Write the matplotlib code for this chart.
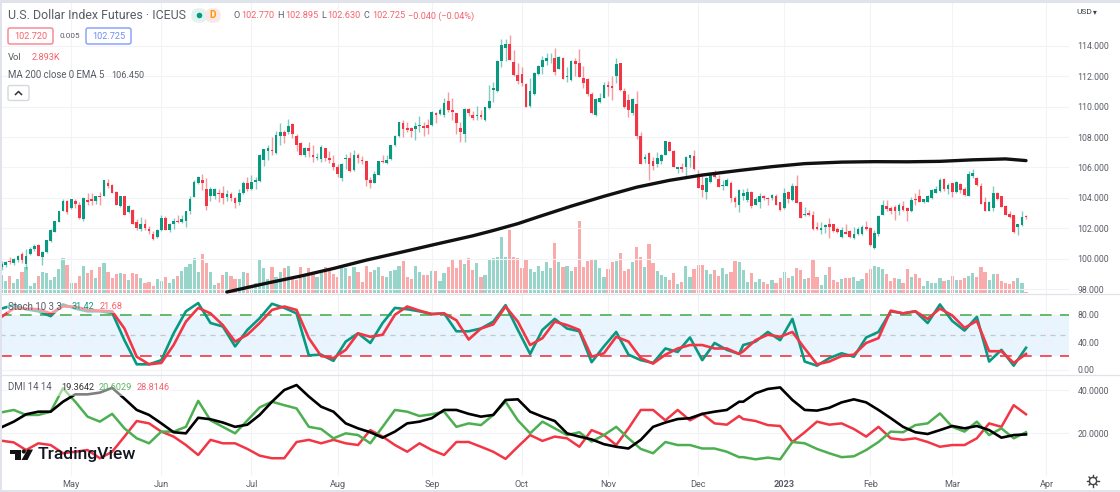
import numpy as np
import matplotlib
matplotlib.use("Agg")
import matplotlib.pyplot as plt
from matplotlib.patches import Rectangle, FancyBboxPatch, Circle, Polygon

plt.rcParams['font.family'] = ['Roboto', 'DejaVu Sans']

# daily bars
opens = [99.45,99.6,99.85,99.7,99.9,100.3,99.65,100.3,100.6,100.9,
    100.1,100.45,101.15,101.75,102.4,103.15,103.8,103.3,103.8,103.55,
    102.6,103.85,103.9,103.8,104.15,104.15,105.0,104.85,104.4,103.45,
    104.1,103.05,103.2,102.4,101.95,102.3,101.95,101.65,101.45,101.85,
    102.7,101.85,102.25,102.5,102.4,102.45,103.1,104.05,105.0,105.2,
    104.55,104.1,104.15,104.35,104.3,104.05,104.25,104.0,103.7,104.3,
    104.95,104.55,105.05,105.1,106.5,107.1,107.15,106.95,108.1,108.35,
    108.3,108.85,108.1,107.6,106.85,107.25,106.85,106.65,106.55,107.25,
    106.6,106.3,106.0,105.3,106.55,106.6,105.85,106.8,106.5,106.4,
    105.15,105.0,105.5,106.4,106.3,106.55,107.45,108.05,108.95,108.6,
    108.6,108.55,108.75,108.75,108.8,108.8,109.6,109.5,109.45,110.35,
    109.8,109.55,108.6,108.2,109.85,109.45,109.4,109.45,109.15,109.9,
    111.1,111.0,113.0,113.85,114.1,112.95,112.1,112.15,111.5,110.05,
    110.8,112.15,112.6,113.0,113.05,113.2,112.45,113.2,111.95,111.75,
    113.0,112.85,111.9,111.8,110.85,109.45,110.3,110.6,111.45,111.35,
    112.0,112.85,111.05,110.45,109.6,110.2,108.1,106.55,106.95,106.45,
    106.25,106.4,106.85,107.65,107.05,105.9,106.0,106.05,106.6,106.75,
    105.6,104.85,104.4,105.05,105.7,105.25,104.8,104.8,105.0,104.0,
    103.5,104.1,103.85,104.4,103.55,103.75,104.15,104.0,104.0,104.15,
    103.7,103.35,104.4,103.85,104.8,103.7,102.85,103.0,102.85,102.05,
    101.9,102.05,102.25,102.25,101.95,101.4,101.75,101.8,101.35,101.6,
    101.6,102.05,102.0,100.7,101.6,102.9,103.45,103.3,103.4,103.15,
    103.45,103.35,103.1,103.9,104.1,103.7,103.75,104.0,104.35,104.45,
    105.25,104.55,104.95,104.4,104.9,104.6,104.15,105.45,105.3,104.75,
    103.75,103.15,103.3,104.35,104.1,103.45,102.95,102.85,102.1,102.2,
    102.77]
highs = [99.85,99.85,100.1,100.05,100.25,100.45,100.6,100.75,100.95,100.95,
    100.5,101.25,101.95,102.45,103.1,103.9,103.85,103.95,103.9,103.75,
    104.05,104.3,104.35,104.1,104.4,105.2,105.25,104.9,104.45,104.15,
    104.15,103.5,103.25,102.6,102.75,102.6,102.15,101.8,101.95,102.85,
    102.8,102.35,102.7,102.9,102.85,103.15,104.1,105.2,105.45,105.55,
    105.3,104.7,104.65,104.55,104.75,104.5,104.4,104.05,104.55,105.1,
    105.35,105.5,105.4,106.9,107.2,107.45,108.0,108.4,108.95,108.45,
    109.2,108.95,108.2,107.7,107.35,107.65,107.45,106.95,107.45,107.3,
    107.05,106.85,106.25,106.3,106.9,107.0,107.15,106.95,106.75,106.45,
    105.4,105.75,106.45,106.8,106.85,107.5,108.15,109.0,109.15,109.0,
    108.65,109.0,109.4,109.0,109.2,109.7,109.65,109.9,110.55,110.95,
    110.55,109.6,109.0,109.9,109.9,109.7,110.05,109.75,110.0,111.4,
    111.6,113.1,114.45,114.45,114.7,113.75,112.9,112.6,111.55,111.9,
    112.3,112.75,113.35,113.55,113.5,113.85,113.3,113.25,112.6,113.1,
    113.2,113.8,112.7,111.9,110.95,110.55,110.9,111.6,111.7,112.0,
    113.2,112.85,111.2,110.85,110.55,111.0,108.3,106.9,107.0,106.7,
    107.0,106.9,107.75,107.75,107.15,106.05,106.3,106.75,106.85,107.15,
    105.8,105.5,105.35,105.6,105.85,105.5,105.2,105.3,105.1,104.1,
    104.6,104.55,104.65,104.45,104.05,104.3,104.2,104.05,104.25,104.25,
    103.75,104.65,104.45,105.0,105.5,103.75,103.4,103.2,103.1,102.4,
    102.4,102.3,102.65,102.3,102.05,102.05,102.25,101.9,102.1,102.05,
    102.2,102.5,102.05,101.9,102.85,103.85,103.85,103.45,103.5,103.65,
    103.8,103.4,104.05,104.3,104.6,103.95,104.2,104.55,104.75,105.3,
    105.3,105.0,105.0,105.1,105.0,104.7,105.75,105.9,105.35,104.95,
    104.05,103.8,104.75,104.4,104.15,103.5,103.1,102.9,102.3,103.1,
    102.895]
lows = [99.25,99.45,99.65,99.55,99.8,99.7,99.3,100.25,100.5,100.15,
    99.6,100.35,101.1,101.75,102.4,103.1,102.95,103.25,103.3,102.6,
    102.5,103.5,103.5,103.6,103.55,104.1,104.65,104.3,103.5,103.4,
    102.85,103.0,102.25,101.9,101.8,101.9,101.6,101.25,101.35,101.8,
    101.85,101.75,101.95,102.35,102.35,102.05,102.95,104.05,104.9,104.5,
    103.2,103.8,103.9,103.75,103.6,103.8,103.8,103.35,103.5,104.25,
    104.45,104.5,104.6,105.05,106.1,106.5,106.85,106.9,107.5,107.6,
    108.2,107.95,107.1,106.8,106.7,106.7,106.35,106.5,106.35,106.45,
    106.3,105.8,105.35,105.1,105.9,105.7,105.75,106.3,106.2,104.8,
    104.65,104.95,105.5,106.3,106.2,106.5,107.4,108.0,108.0,108.3,
    108.0,107.8,108.35,108.1,108.2,108.7,108.9,109.45,109.3,109.65,
    109.15,108.2,107.65,107.7,109.4,109.1,109.15,109.2,109.05,109.85,
    110.3,110.95,112.6,113.0,113.05,112.0,111.5,111.35,110.0,110.0,
    110.75,112.1,112.15,112.75,112.9,112.1,112.45,111.8,111.65,111.7,
    112.0,111.95,111.2,110.7,109.5,109.4,110.25,110.6,110.7,110.45,
    111.55,111.05,109.9,109.3,109.45,107.9,106.2,106.3,105.15,105.85,
    106.0,106.25,106.85,107.05,106.0,105.65,105.7,105.4,106.0,105.85,
    104.65,104.05,103.9,105.0,105.3,104.7,104.5,104.75,103.75,103.4,
    103.05,103.85,103.75,103.35,103.5,103.35,103.85,103.5,103.85,103.55,
    103.15,103.25,103.65,103.8,103.65,102.7,102.8,102.8,101.9,101.85,
    101.6,101.7,101.35,101.75,101.7,101.35,101.6,101.35,101.3,101.55,
    101.55,101.9,100.85,100.65,101.5,102.85,103.1,102.95,102.55,102.85,
    103.15,102.45,103.05,103.5,103.7,103.65,103.7,103.95,104.3,104.4,
    104.45,104.25,104.05,104.35,104.35,104.15,104.1,105.3,104.75,103.6,
    103.15,103.1,103.1,103.85,103.4,102.85,102.7,101.7,101.55,102.15,
    102.63]
closes = [99.65,99.75,99.8,99.95,100.2,99.9,100.2,100.65,100.85,100.2,
    100.45,101.2,101.85,102.45,103.1,103.8,103.05,103.9,103.6,102.7,
    104.0,103.75,103.8,104.1,104.05,105.15,104.75,104.35,103.5,104.1,
    102.9,103.45,102.3,102.0,102.25,102.0,101.8,101.3,101.85,102.7,
    101.9,102.25,102.5,102.4,102.6,103.15,103.95,105.05,105.4,105.0,
    103.45,104.55,104.6,104.25,104.0,104.25,104.0,103.65,104.3,104.95,
    104.55,105.05,105.15,106.8,107.2,107.3,107.05,108.15,108.35,108.1,
    108.7,108.2,107.5,106.85,107.25,107.05,106.7,106.7,107.35,106.65,
    106.5,106.0,105.55,106.25,106.65,105.75,106.8,106.6,106.45,105.2,
    105.0,105.55,106.45,106.35,106.5,107.45,108.1,109.0,108.55,108.45,
    108.4,108.7,108.8,108.6,108.6,109.65,109.45,109.8,110.25,109.75,
    109.65,108.95,108.3,109.85,109.6,109.25,109.45,109.3,109.95,110.35,
    111.2,113.0,114.05,114.1,113.1,112.05,111.7,111.55,110.0,111.0,
    112.2,112.7,113.05,113.2,113.1,112.25,113.25,111.85,112.0,113.0,
    112.8,111.95,111.55,110.8,109.55,110.5,110.55,111.45,111.3,111.2,
    112.8,111.1,109.95,109.8,110.5,108.1,106.2,106.7,106.25,106.1,
    106.6,106.85,107.75,107.1,106.0,106.0,105.9,106.7,106.8,105.9,
    104.65,104.5,105.3,105.5,105.4,104.7,104.85,105.15,104.0,103.75,
    104.5,104.35,104.4,103.45,103.9,104.1,104.0,103.9,104.2,103.55,
    103.2,104.3,103.95,104.8,103.65,102.7,102.95,102.85,101.95,101.95,
    102.0,102.2,102.1,101.8,101.75,101.9,101.6,101.45,101.6,101.95,
    102.1,101.95,100.9,101.7,102.8,103.55,103.25,103.15,103.15,103.5,
    103.2,103.1,103.85,103.85,103.7,103.9,104.1,104.5,104.6,105.2,
    104.55,104.85,104.4,105.05,104.5,104.2,105.6,105.65,104.85,103.6,
    103.15,103.75,104.3,103.95,103.4,102.9,102.75,101.75,102.25,102.75,
    102.725]
volume_k = [27.5,18.5,26,15,21.5,32.5,40,11.5,15,26,
    32.5,30,20,24,36.5,52.5,42.5,15,15,26,
    41.5,30,35,23,39,45,32.5,22.5,28.5,30,
    28.5,20,30,29,22.5,15,17.5,11.5,21,19,
    24,16,21.5,26,33.5,40,44,53,32.5,59,
    45,32.5,12.5,16,27.5,32.5,26,21.5,21.5,31.5,
    30,11,15,50,37.5,21,40,25,31.5,37.5,
    41.5,25,20,39.5,29,37.5,32.5,24,30,40,
    37.5,28.5,25,40,37.5,26,40,31.5,16.5,41.5,
    32.5,35,39,26,24,33.5,34.5,41.5,48.5,24,
    21,41.5,31.5,27.5,27,33.5,33.5,19,30,39.5,
    51,38.5,50,44,53,35,46,24,28,50,
    53.5,54,85,54,95,55,52.5,38.5,50.5,37,
    32.5,41.5,33.5,47.5,38.5,76,47,40,41,34,
    39,108.5,40,48.5,49.5,49.5,37.5,25,36,46.5,
    49,61,34,36,46.5,69.5,54,39.5,74,45,
    33.5,27,24,20,31,14,17,41.5,24.5,37,
    42.5,42.5,35,29,35,26,38.5,29,32.5,48,
    47.5,35,17.5,30,17.5,21,16.5,14,19.5,15,22.5,
    32.5,23,26,38,35,21.5,23,51.5,24,12.5,
    27,39,20,16.5,22,23,23.5,24,19,21.5,
    30,36,41.5,39,36,28.5,19,23,21.5,16,
    37,25,29,23.5,11,18.5,16,16,23.5,18,
    19.5,26,19.5,19.5,23,26,30.5,24,39.5,32.5,
    20,28.5,28.5,18.5,16,14,19,23,15,2.893]

ma_idx = [55,65,73,81,89,98,106,115,120,126,131,139,147,155,163,171,180,188,196,205,213,221,229,237,245,250]
ma200 = [97.8,98.4,98.85,99.35,99.9,100.45,100.95,101.5,101.85,102.3,102.75,103.45,104.1,104.7,105.15,105.5,105.8,106.05,106.25,106.35,106.38,106.37,106.4,106.5,106.56,106.45]

# oscillators are read every third bar
osc_idx = list(range(0, 181, 3)) + list(range(181, 251, 3))
stoch_k = [89,94,88,85,78,95,89,85,85,83,43,8,8,14,53,85,97,68,63,34,58,75,96,90,82,21,22,13,41,53,
    39,68,90,88,85,81,82,56,56,60,70,94,58,23,58,74,60,56,11,34,55,22,14,10,31,26,47,14,39,29,23,
    36,41,55,43,74,12,6,17,24,19,47,55,85,82,85,68,95,71,57,77,12,29,6,32]
stoch_d = [77,89,89,88,82,92,92,87,86,85,60,19,8,10,36,70,90,82,65,41,51,68,87,92,87,46,20,17,29,53,
    48,51,80,92,86,81,82,72,44,60,66,92,70,36,46,70,65,58,19,24,48,41,17,9,22,31,36,36,31,31,23,
    27,43,51,48,55,31,8,12,20,22,39,46,86,82,85,74,89,79,61,71,27,27,10,23]
adx = [22.8,25.4,28.8,30,30,34.6,38,38,38.8,41,36,30.8,28.5,24.6,20.5,20,27.2,26.5,25,23,24,28.5,34.6,40,42.3,37,32.3,30,24.6,22.3,
    20.5,18,20.8,24.6,25.4,27,30.8,30.8,29,27.7,28.5,35.4,35.7,30,27.7,25.7,20,18.5,17.2,15,13.8,13,17,23,25,26.6,27,29,30,30.8,34.6,
    34.6,38.5,40.5,41.2,35.4,30.8,30.5,31.8,34.3,35.7,34.3,30.8,27,23,20.5,19.7,21.5,23.4,22.3,23.4,21.5,18,19.2,19.5]
di_plus = [29.7,30.8,28.5,28.5,30,40.8,34.6,27.7,25.4,29,22.3,17.7,15.4,20.8,20.8,23,35,26,23,20,26,32,34.6,33,31.5,23,22,17.7,20,19.2,
    15.4,23,30.8,30,28,28.8,30,23,24.6,23.8,28.5,34.6,26,20,25.4,22.3,19.2,20.5,16.2,19.2,23,17.7,12.8,10.8,16,14.6,14.6,13,13,11.5,9,
    9,8,8.8,8,16,15.4,12.8,10.8,9,9.4,12.3,16,20.8,20.5,23.8,24.6,29.2,23,20.8,25.4,19.2,22.3,17.7,20.5]
di_minus = [16.6,15.8,12.3,15.4,14.6,10.8,11.5,12.3,8.5,11.5,18.5,25.7,24.6,20.8,18.5,14.6,10,17,15.4,15.4,12.8,9.7,8.5,8.5,16,17,15.4,17,15.4,14.6,
    21.5,18.5,14.6,11.5,15.4,12.3,10,16,16,13.8,11.5,8.2,13.8,19.2,16.5,18.5,17.7,13.8,21.5,19.2,14.6,22.3,30.8,30.8,26,30.8,26,29,24.6,24,28,
    26.6,25.7,23.8,23.4,16,20.5,25.4,24,24.6,22,18.5,23,17.7,17,17.7,16,13.8,14.6,14.6,17.7,24.6,23,33,28.8]

month_idx = [17,39,61,82,105,127,148,170,191,212,232,255]
month_labels = ['May','Jun','Jul','Aug','Sep','Oct','Nov','Dec','2023','Feb','Mar','Apr']
price_ticks = [98,100,102,104,106,108,110,112,114]
stoch_ticks = [0,40,80]
dmi_ticks = [20,40]

W, H = 1120, 492
TEAL = '#089981'
RED = '#f23645'
GREEN = '#4caf50'
GRID = '#f2f3f7'
SEP = '#e0e3eb'
TXT = '#5a5d68'
NUM = 6.6

fig = plt.figure(figsize=(W/100, H/100), dpi=100, facecolor='white')

def pane(top, bottom, ymin, ymax):
    ax = fig.add_axes([0, 1-bottom/H, 1069/W, (bottom-top)/H])
    ax.set_xlim((0-1.5)/4.098, (1069-1.5)/4.098)
    ax.set_ylim(ymin, ymax)
    for s in ax.spines.values():
        s.set_visible(False)
    ax.yaxis.tick_right()
    ax.tick_params(length=0, labelsize=6.3, labelcolor=TXT, pad=6)
    ax.set_xticks(month_idx)
    ax.set_xticklabels([])
    ax.grid(True, color=GRID, lw=0.8)
    ax.set_axisbelow(True)
    return ax

idx = np.arange(len(closes))
o = np.array(opens)
c = np.array(closes)
up = c >= o

# price pane with volume underneath
ax = pane(3, 293.5, 97.704, 116.82)
axv = ax.twinx()
axv.set_ylim(0, 290.5/(2/3))
axv.axis('off')
axv.bar(idx, volume_k, width=0.78, color=np.where(up, '#97d5cb', '#f9abab'), zorder=1)
axv.set_zorder(1)
ax.set_zorder(2)
ax.patch.set_alpha(0)
ax.yaxis.tick_right()
ax.yaxis.set_label_position('right')
ax.set_yticks(price_ticks)
ax.set_yticklabels(['%.3f' % t for t in price_ticks])
ax.vlines(idx[up], np.array(lows)[up], np.array(highs)[up], color=TEAL, alpha=0.5, lw=1.0, zorder=3)
ax.vlines(idx[~up], np.array(lows)[~up], np.array(highs)[~up], color=RED, alpha=0.5, lw=1.0, zorder=3)
ax.bar(idx, np.maximum(np.abs(c-o), 0.05), bottom=np.minimum(o, c), width=0.66,
    color=np.where(up, TEAL, RED), zorder=4)
ax.plot(ma_idx, ma200, color='#111111', lw=2.4, zorder=5, solid_capstyle='round', solid_joinstyle='round')

# stochastic
ax2 = pane(293.5, 374, -6.1, 110.9)
ax2.set_yticks(stoch_ticks)
ax2.set_yticklabels(['%.2f' % t for t in stoch_ticks])
ax2.axhspan(20, 80, color='#e8f4fe', lw=0, zorder=0)
ax2.axhline(80, color=GREEN, lw=1.2, dashes=(7, 5))
ax2.axhline(50, color='#c4c6cc', lw=0.9, dashes=(4, 4))
ax2.axhline(20, color=RED, lw=1.2, dashes=(7, 5))
ax2.plot(osc_idx, stoch_k, color=TEAL, lw=1.9, zorder=4, solid_joinstyle='round')
ax2.plot(osc_idx, stoch_d, color=RED, lw=1.9, zorder=5, solid_joinstyle='round')

# dmi
ax3 = pane(374, 476, 0.3, 47.4)
ax3.set_yticks(dmi_ticks)
ax3.set_yticklabels(['%.4f' % t for t in dmi_ticks])
ax3.plot(osc_idx, di_minus, color=RED, lw=1.8, solid_joinstyle='round')
ax3.plot(osc_idx, di_plus, color=GREEN, lw=1.8, solid_joinstyle='round')
ax3.plot(osc_idx, adx, color='black', lw=1.9, solid_joinstyle='round')
ax3.set_xticklabels(month_labels)
ax3.tick_params(axis='x', labelsize=NUM, pad=3)
ax3.get_xticklabels()[8].set_fontweight('bold')

# everything that sits on top, in pixels
ov = fig.add_axes([0, 0, 1, 1], zorder=10)
ov.set_xlim(0, W)
ov.set_ylim(H, 0)
ov.axis('off')
ov.patch.set_alpha(0)

def txt(x, y, s, color=TXT, size=NUM, **kw):
    ov.text(x, y, s, color=color, fontsize=size, va='center', ha=kw.pop('ha', 'left'), **kw)

def box(x0, y0, x1, y1, edge, face='white', lw=1.0, r=2):
    ov.add_patch(FancyBboxPatch((x0, y0), x1-x0, y1-y0, boxstyle='round,pad=0,rounding_size=%d' % r,
        ec=edge, fc=face, lw=lw))

# frame
ov.add_patch(Rectangle((0, 0), W, 2.5, color=SEP, lw=0))
ov.add_patch(Rectangle((0, 0), 1.5, H, color=SEP, lw=0))
ov.add_patch(Rectangle((0, 489.5), W, 2.5, color=SEP, lw=0))
ov.plot([0, W], [293.5, 293.5], color=SEP, lw=0.9)
ov.plot([0, W], [374.5, 374.5], color=SEP, lw=0.9)

# faded legends over the lines
ov.add_patch(Rectangle((7, 299), 120, 14, color='white', alpha=0.5, lw=0))
ov.add_patch(Rectangle((7, 381), 166, 15, color='white', alpha=0.5, lw=0))

txt(8, 15.5, 'U.S. Dollar Index Futures · ICEUS', size=8.9)
box(192, 9, 206, 22, '#e0f3ef', '#e0f3ef', r=6)
box(206, 9, 220, 22, '#fbe7e7', '#fbe7e7', r=6)
ov.add_patch(Circle((199.5, 15.5), 2.8, color=TEAL, lw=0))
txt(213, 15.5, 'D', color='#ff9800', size=7.2, ha='center', fontweight='bold')
for x, s, col in [(233, 'O', TXT), (241, '102.770', '#f4626e'), (277, 'H', TXT), (285, '102.895', '#f4626e'),
        (321, 'L', TXT), (327, '102.630', '#f4626e'), (364, 'C', TXT), (372, '102.725', '#f4626e'),
        (408, '−0.040 (−0.04%)', '#f4626e')]:
    txt(x, 16, s, color=col)
box(8, 28, 53, 44, '#f5818b')
txt(30.5, 36.5, '102.720', color='#f4626e', ha='center')
txt(59, 36.5, '0.005', size=5.9)
box(86, 28, 131, 44, '#7f9cfb')
txt(108.5, 36.5, '102.725', color='#6d8df5', ha='center')
txt(8, 57.5, 'Vol', size=6.8)
txt(32, 57.5, '2.893K', color='#f4626e')
txt(8, 75.5, 'MA 200 close 0 EMA 5', size=6.9)
txt(111, 75.5, '106.450')
box(8, 85.5, 29, 100.5, '#d5d8e0')
ov.plot([15.5, 18.5, 21.5], [94.5, 91.5, 94.5], color='#333333', lw=1.1)

txt(8, 307, 'Stoch 10 3 3', size=7.0)
txt(72, 306.5, '31.42', color=TEAL)
txt(100, 306.5, '21.68', color='#f4626e')
txt(8, 387.5, 'DMI 14 14', size=6.9)
txt(61, 387.5, '19.3642', color='#333333')
txt(99, 387.5, '20.6029', color='#5fb364')
txt(137, 387.5, '28.8146', color='#f4626e')

txt(1076, 12.5, 'USD', size=6.0, color='#3c3f48')
txt(1092.5, 12.5, '▾', size=5.5, color='#3c3f48')

# tradingview mark
ov.add_patch(Polygon([(10, 449.5), (21, 449.5), (21, 460), (15, 460), (15, 453.5), (10, 453.5)], color='#111111', lw=0))
ov.add_patch(Circle((23.8, 451.5), 2.1, color='#111111', lw=0))
ov.add_patch(Polygon([(27.5, 449.5), (33, 449.5), (27.5, 460), (21.5, 460)], color='#111111', lw=0))
txt(38, 455, 'TradingView', color='#131722', size=12.6, fontweight='medium')

# settings gear bottom right
ov.add_patch(Circle((1093, 481), 3.6, fc='white', ec='#444444', lw=1.0))
for a in np.arange(8)*np.pi/4:
    ov.plot([1093+4*np.cos(a), 1093+5.6*np.cos(a)], [481+4*np.sin(a), 481+5.6*np.sin(a)], color='#444444', lw=1.0)

fig.savefig('out.png', dpi=100, facecolor='white')
